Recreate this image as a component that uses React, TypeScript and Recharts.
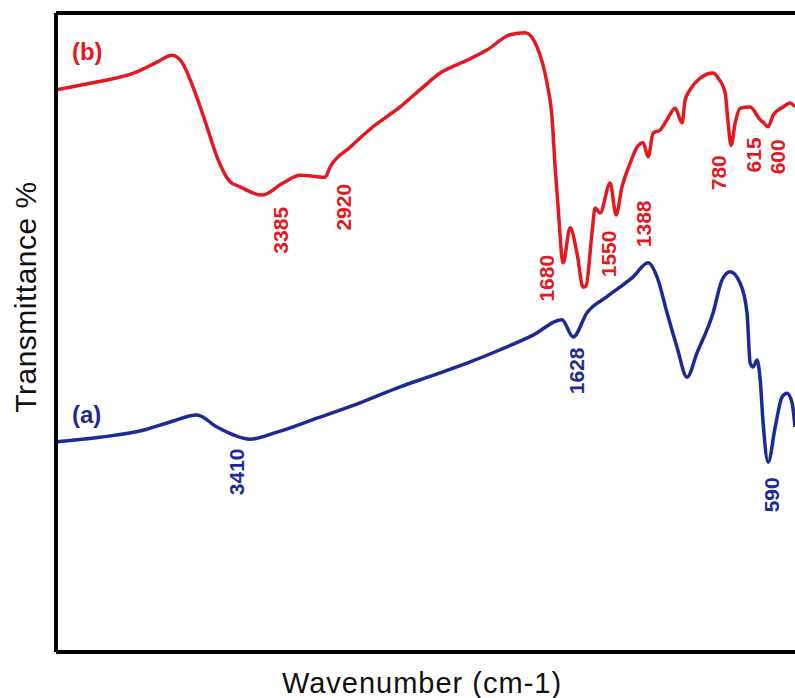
import { LineChart, Line, XAxis, YAxis, ReferenceLine, ReferenceDot, Label } from "recharts";

// wavenumber (cm-1) / transmittance
const redWn = [
  4425, 4246, 3993, 3885, 3804, 3750, 3690, 3615, 3561, 3490, 3436, 3318, 3204, 3112, 2977, 2950,
  2842, 2718, 2572, 2464, 2356, 2211, 2103, 1978, 1897, 1833, 1779, 1752, 1735, 1719, 1692, 1654,
  1617, 1584, 1568, 1536, 1519, 1492, 1438, 1406, 1374, 1330, 1293, 1260, 1233, 1206, 1168, 1131,
  1087, 1050, 1033, 1006, 952, 882, 855, 817, 801, 785, 763, 736, 682, 628, 612, 585, 558, 504, 466, 440,
];
const redT = [
  88.0, 89.0, 90.8, 92.3, 93.4, 92.3, 88.4, 82.2, 77.5, 73.6, 72.8, 71.5, 73.4, 74.6, 74.3, 75.9,
  79.0, 82.2, 85.3, 88.0, 90.6, 92.6, 94.2, 96.6, 96.9, 94.7, 89.0, 83.7, 75.9, 69.6, 60.9, 66.4,
  62.4, 57.1, 57.3, 65.6, 69.5, 68.7, 73.4, 68.4, 72.8, 76.5, 79.0, 79.7, 77.5, 81.2, 81.7, 83.3,
  85.1, 82.8, 86.4, 88.0, 89.8, 90.6, 89.8, 87.5, 82.8, 79.3, 82.8, 85.1, 85.3, 83.3, 82.9, 82.2, 84.0, 85.3, 85.9, 85.3,
];

const blueWn = [
  4425, 4192, 3960, 3814, 3669, 3561, 3474, 3382, 3237, 3021, 2788, 2572, 2394, 2211, 2032, 1854,
  1698, 1638, 1563, 1455, 1314, 1233, 1185, 1131, 1077, 1023, 969, 882, 834, 790, 736, 699, 682,
  666, 645, 628, 612, 585, 547, 510, 483, 456, 440,
];
const blueT = [
  32.9, 33.6, 34.7, 36.0, 37.1, 35.2, 34.0, 33.3, 34.4, 36.6, 39.0, 41.5, 43.3, 45.2, 47.3, 49.6,
  52.0, 49.3, 53.1, 55.6, 58.7, 60.9, 58.7, 53.1, 47.7, 43.0, 46.8, 53.1, 58.2, 59.5, 57.7, 53.1, 45.2,
  44.6, 45.7, 42.6, 35.8, 29.7, 35.2, 39.9, 40.5, 39.0, 35.2,
];

// peak annotations: [text, wn, t]
const redPeaks: [string, number, number][] = [
  ["3385", 3220, 66.0],
  ["2920", 2880, 69.6],
  ["1680", 1784, 58.5],
  ["1550", 1449, 62.3],
  ["1388", 1260, 67.0],
  ["780", 855, 75.0],
  ["615", 666, 77.8],
  ["600", 537, 77.5],
];
const bluePeaks: [string, number, number][] = [
  ["3410", 3458, 28.2],
  ["1628", 1617, 44.0],
  ["590", 569, 24.6],
];

const redData = redWn.map((wn, i) => ({ wn, t: redT[i] }));
const blueData = blueWn.map((wn, i) => ({ wn, t: blueT[i] }));

const RED = "#e3191f";
const BLUE = "#1c2a96";
const FONT = "'Liberation Sans', Arial, sans-serif";

function rotLabel(text: string, color: string) {
  return (props: any) => {
    const vb = props.viewBox || {};
    const cx = vb.x + (vb.width || 0) / 2;
    const cy = vb.y + (vb.height || 0) / 2;
    return (
      <text
        x={cx}
        y={cy}
        transform={`rotate(-90 ${cx} ${cy})`}
        textAnchor="middle"
        dominantBaseline="central"
        fontFamily={FONT}
        fontWeight="bold"
        fontSize={21}
        fill={color}
      >
        {text}
      </text>
    );
  };
}

function tagLabel(text: string, color: string) {
  return (props: any) => {
    const vb = props.viewBox || {};
    return (
      <text
        x={vb.x}
        y={vb.y}
        dominantBaseline="central"
        fontFamily={FONT}
        fontWeight="bold"
        fontSize={24}
        fill={color}
      >
        {text}
      </text>
    );
  };
}

export default function App() {
  return (
    <div style={{ position: "absolute", left: 0, top: 0, background: "#fff" }}>
      <LineChart width={795} height={698} margin={{ top: 13, right: 0, left: 0, bottom: 0 }}>
        <XAxis
          dataKey="wn"
          type="number"
          domain={[440, 4430]}
          reversed
          allowDataOverflow
          height={46}
          tick={false}
          tickLine={false}
          axisLine={{ stroke: "#000", strokeWidth: 4 }}
        >
          <Label
            content={() => (
              <text
                x={422}
                y={683}
                textAnchor="middle"
                dominantBaseline="central"
                fontFamily={FONT}
                fontSize={29}
                letterSpacing={1}
                fill="#111"
              >
                Wavenumber (cm-1)
              </text>
            )}
          />
        </XAxis>
        <YAxis
          type="number"
          domain={[0, 100]}
          allowDataOverflow
          width={56}
          tick={false}
          tickLine={false}
          axisLine={{ stroke: "#000", strokeWidth: 4 }}
        >
          <Label
            content={() => (
              <text
                x={25}
                y={297}
                transform="rotate(-90 25 297)"
                textAnchor="middle"
                dominantBaseline="central"
                fontFamily={FONT}
                fontSize={30}
                letterSpacing={0.5}
                fill="#111"
              >
                Transmittance %
              </text>
            )}
          />
        </YAxis>
        <ReferenceLine y={100} stroke="#000" strokeWidth={4} />
        <Line
          data={redData}
          dataKey="t"
          type="monotone"
          stroke={RED}
          strokeWidth={3.5}
          dot={false}
          isAnimationActive={false}
        />
        <Line
          data={blueData}
          dataKey="t"
          type="monotone"
          stroke={BLUE}
          strokeWidth={3.5}
          dot={false}
          isAnimationActive={false}
        />
        <ReferenceDot x={4344} y={93.9} r={0} fill="none" stroke="none">
          <Label content={tagLabel("(b)", RED)} />
        </ReferenceDot>
        <ReferenceDot x={4344} y={37.2} r={0} fill="none" stroke="none">
          <Label content={tagLabel("(a)", BLUE)} />
        </ReferenceDot>
        {redPeaks.map(([text, wn, t]) => (
          <ReferenceDot key={"r" + text} x={wn} y={t} r={0} fill="none" stroke="none">
            <Label content={rotLabel(text, RED)} />
          </ReferenceDot>
        ))}
        {bluePeaks.map(([text, wn, t]) => (
          <ReferenceDot key={"b" + text} x={wn} y={t} r={0} fill="none" stroke="none">
            <Label content={rotLabel(text, BLUE)} />
          </ReferenceDot>
        ))}
      </LineChart>
    </div>
  );
}
